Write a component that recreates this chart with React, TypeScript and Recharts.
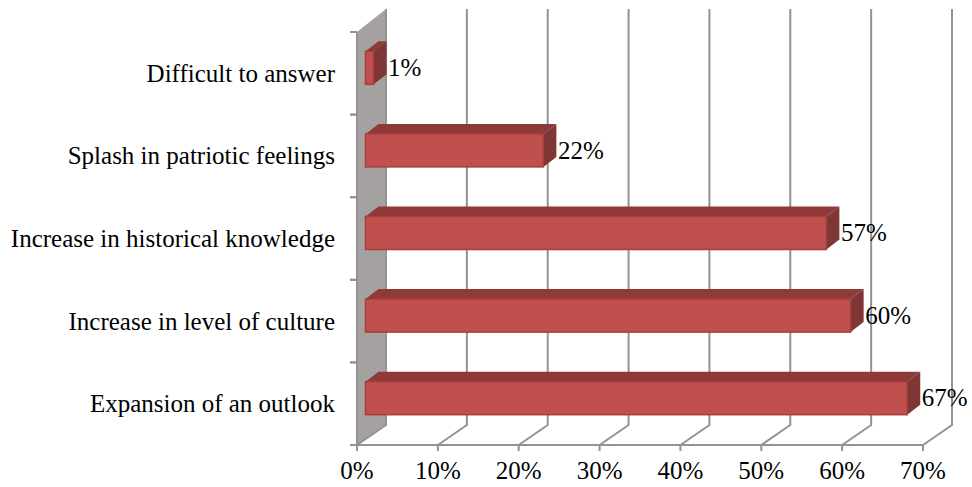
import { BarChart, Bar, XAxis, YAxis, CartesianGrid, LabelList } from "recharts"

const categories = [
	"Difficult to answer",
	"Splash in patriotic feelings",
	"Increase in historical knowledge",
	"Increase in level of culture",
	"Expansion of an outlook",
]
const shares = [1, 22, 57, 60, 67]
const xTicks = [0, 10, 20, 30, 40, 50, 60, 70]

const data = categories.map((name, i) => ({ name, share: shares[i] }))

const FONT = "'Liberation Serif', 'Times New Roman', serif"
const FONT_SIZE = 25
const AXIS_GRAY = "#939393"
const BAND = 82.6

// depth of the fake 3d box
const WALL_DX = 29
const WALL_DY_TOP = 23
const WALL_DY_BOTTOM = 20
// how far the bars sit inside that depth
const BAR_DX = 8.5
const BAR_DY = -5.7
const BAR_DEPTH_X = 13
const BAR_DEPTH_Y = 10

// each vertical grid line runs along the floor, then up the back; the first one also carries the side wall
const GridLine = (props: any) => {
	const { x1, y1, y2, index } = props
	const top = Math.min(y1, y2)
	const bottom = Math.max(y1, y2)
	return (
		<g>
			{index === 0 && (
				<polygon
					points={`${x1},${top} ${x1 + WALL_DX},${top - WALL_DY_TOP} ${x1 + WALL_DX},${bottom - WALL_DY_BOTTOM} ${x1},${bottom}`}
					fill="#a5a1a1"
				/>
			)}
			<polyline
				points={`${x1},${bottom} ${x1 + WALL_DX},${bottom - WALL_DY_BOTTOM} ${x1 + WALL_DX},${top - WALL_DY_TOP}`}
				fill="none"
				stroke={AXIS_GRAY}
				strokeWidth={2}
			/>
		</g>
	)
}

const Box3D = (props: any) => {
	const { x, y, width, height } = props
	const left = x + BAR_DX
	const top = y + BAR_DY
	const right = left + width
	const bottom = top + height
	return (
		<g>
			<polygon
				points={`${left},${top} ${left + BAR_DEPTH_X},${top - BAR_DEPTH_Y} ${right + BAR_DEPTH_X},${top - BAR_DEPTH_Y} ${right},${top}`}
				fill="#8e3a38"
			/>
			<polygon
				points={`${right},${top} ${right + BAR_DEPTH_X},${top - BAR_DEPTH_Y} ${right + BAR_DEPTH_X},${bottom - BAR_DEPTH_Y} ${right},${bottom}`}
				fill="#803634"
			/>
			<rect x={left} y={top} width={width} height={height} fill="#c0504d" stroke="#a53f3c" strokeWidth={1.5} />
		</g>
	)
}

const CategoryTick = (props: any) => {
	const { x, y, payload } = props
	return (
		<g>
			<line x1={x + 15} x2={x + 22} y1={y - BAND / 2} y2={y - BAND / 2} stroke={AXIS_GRAY} strokeWidth={2} />
			<line x1={x + 15} x2={x + 22} y1={y + BAND / 2} y2={y + BAND / 2} stroke={AXIS_GRAY} strokeWidth={2} />
			<text x={x} y={y} dy={8.5} textAnchor="end" fontFamily={FONT} fontSize={FONT_SIZE} fill="#000">
				{payload.value}
			</text>
		</g>
	)
}

const BarLabel = (props: any) => {
	const { x, y, width, height, value } = props
	return (
		<text x={x + width + 23} y={y + height / 2 - 5} dy={7.5} fontFamily={FONT} fontSize={FONT_SIZE} fill="#000">
			{`${value}%`}
		</text>
	)
}

export default function App() {
	return (
		<div style={{ position: "absolute", left: 0, top: 0 }}>
			<BarChart
				width={972}
				height={487}
				data={data}
				layout="vertical"
				margin={{ top: 32, right: 49, bottom: 12, left: 0 }}
				barSize={33}
			>
				<CartesianGrid horizontal={false} vertical={GridLine} />
				<XAxis
					type="number"
					domain={[0, 70]}
					ticks={xTicks}
					interval={0}
					tickFormatter={(v: number) => `${v}%`}
					tick={{ fontFamily: FONT, fontSize: FONT_SIZE, fill: "#000" }}
					tickSize={6}
					tickMargin={10}
					axisLine={{ stroke: AXIS_GRAY, strokeWidth: 2 }}
					tickLine={{ stroke: AXIS_GRAY, strokeWidth: 2 }}
				/>
				<YAxis
					type="category"
					dataKey="name"
					width={357}
					interval={0}
					tick={<CategoryTick />}
					tickLine={false}
					tickSize={7}
					tickMargin={15}
					axisLine={{ stroke: AXIS_GRAY, strokeWidth: 2 }}
				/>
				<Bar dataKey="share" shape={<Box3D />} isAnimationActive={false}>
					<LabelList dataKey="share" content={<BarLabel />} />
				</Bar>
			</BarChart>
		</div>
	)
}
